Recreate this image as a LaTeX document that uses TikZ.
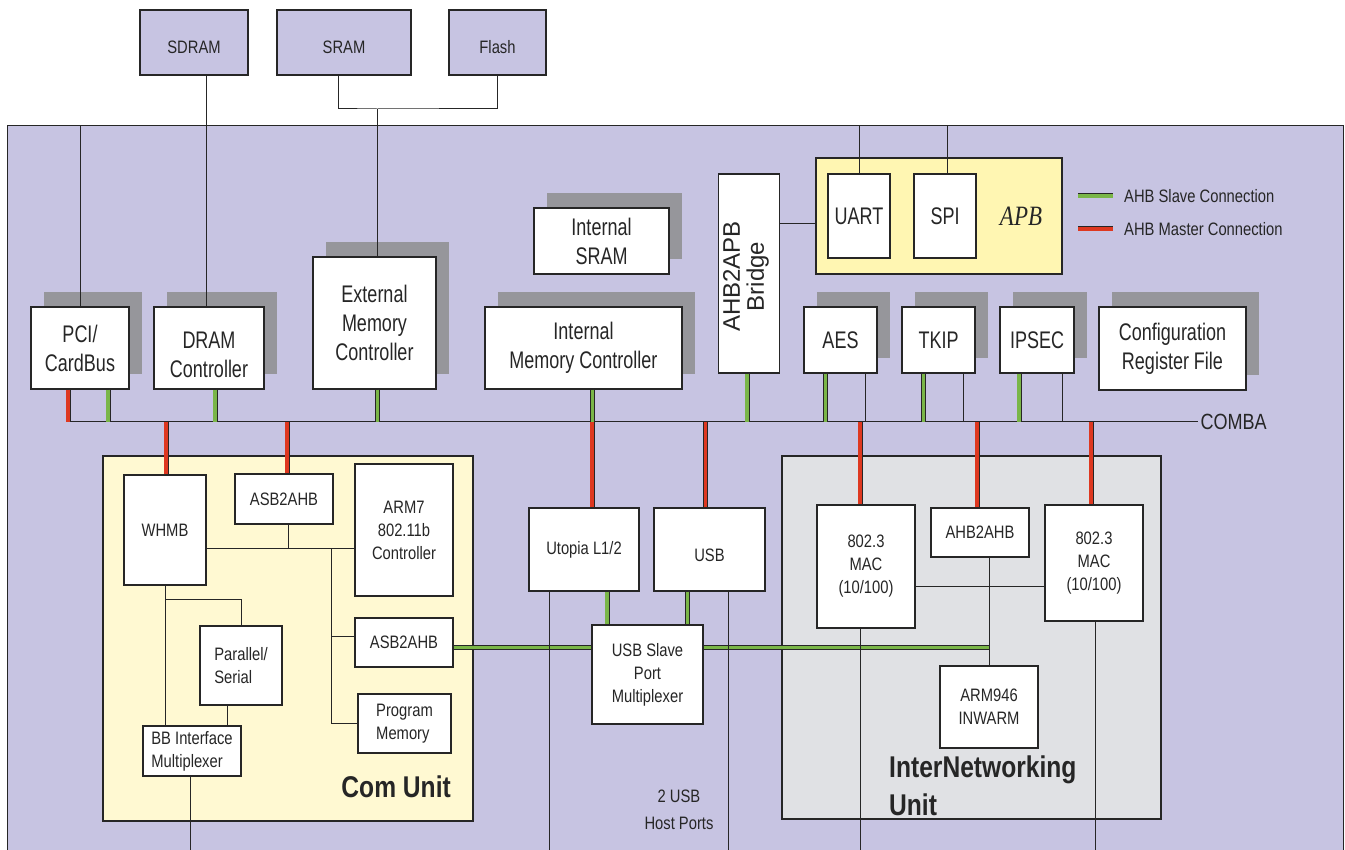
\documentclass[tikz,border=0pt]{standalone}
\usepackage{fontspec}
\setmainfont{Liberation Sans}[FakeStretch=0.82]
\newfontfamily\bigfont{Liberation Sans}[FakeStretch=0.75]
\newfontfamily\widefont{Liberation Sans}
\newfontfamily\apbfont{Liberation Serif}[FakeStretch=0.82]
\usetikzlibrary{shadows}
\definecolor{lavender}{RGB}{199,196,226}
\definecolor{shadowgray}{RGB}{150,150,155}
\definecolor{apbyellow}{RGB}{255,246,178}
\definecolor{comyellow}{RGB}{255,249,210}
\definecolor{inugray}{RGB}{224,225,228}
\definecolor{slavegreen}{RGB}{122,182,72}
\definecolor{masterred}{RGB}{222,56,32}
\newcommand\smalltxt{\fontsize{18}{23}\selectfont}
\newcommand\bigtxt{\bigfont\fontsize{24}{29}\selectfont}
\newcommand\unittxt{\bfseries\fontsize{30}{38}\selectfont}
\begin{document}
\begin{tikzpicture}[x=1pt,y=-1pt,color=black!85,
    box/.style={draw, fill=white, line width=1.1pt, inner sep=0pt, align=center, font=\smalltxt},
    big/.style={font=\bigtxt},
    wh/.style 2 args={minimum width=#1, minimum height=#2},
    shadowed/.style={drop shadow={shadow xshift=13pt, shadow yshift=15pt, opacity=1, fill=shadowgray, draw=none}},
    zone/.style={draw, line width=1.1pt, inner sep=0pt},
    wire/.style={line width=1pt},
    slave/.style={line width=0.9pt, double=slavegreen, double distance=3.2pt},
    master/.style={line width=0.9pt, double=masterred, double distance=3.2pt},
    unitlbl/.style={font=\unittxt, align=left, inner sep=0pt}]
    \useasboundingbox (0,0) rectangle (1345,850);
    \clip (0,0) rectangle (1345,850);
    \node[zone, fill=lavender, anchor=north west, wh={1336}{740}] (chip) at (7,125) {};
    \node[box, fill=lavender, wh={108}{65}, text height=23pt] (sdram) at (194,42.5) {SDRAM};
    \node[box, fill=lavender, wh={134}{65}, text height=23pt] (sram) at (344,42.5) {SRAM};
    \node[box, fill=lavender, wh={97}{65}, text height=23pt] (flash) at (497.5,42.5) {Flash};
    \node[box, big, shadowed, wh={98}{82}] (pci) at (80,348) {PCI/\\CardBus};
    \node[box, big, shadowed, wh={110}{82}, text height=60pt] (dram) at (209,348) {DRAM\\Controller};
    \node[box, big, shadowed, wh={123}{132}] (extmc) at (374.5,323) {External\\Memory\\Controller};
    \node[box, big, shadowed, wh={135}{66}] (isram) at (601.5,241) {Internal\\SRAM};
    \node[box, big, shadowed, wh={197}{82}] (imc) at (583.5,348) {Internal\\Memory Controller};
    \node[box, wh={61}{199}] (bridge) at (749,273.5) {};
    \node[font=\widefont\fontsize{24}{24}\selectfont, rotate=90, align=center] (bridgetxt)
        at ([xshift=-3,yshift=-3]bridge.center) {AHB2APB\\Bridge};
    \node[zone, fill=apbyellow, wh={246}{116}] (apb) at (939,216) {};
    \node[box, big, wh={62}{84}] (uart) at (859,216) {UART};
    \node[box, big, wh={62}{84}] (spi) at (945,216) {SPI};
    \node[font=\apbfont\itshape\fontsize{28}{28}\selectfont] (apblbl) at (1021,216) {APB};
    \node[box, big, shadowed, wh={73}{66}] (aes) at (840.5,340) {AES};
    \node[box, big, shadowed, wh={73}{66}] (tkip) at (938.5,340) {TKIP};
    \node[box, big, shadowed, wh={74}{66}] (ipsec) at (1037,340) {IPSEC};
    \node[box, big, shadowed, wh={147}{83}] (conf) at (1172.5,348.5) {Configuration\\Register File};
    \node[anchor=west, font=\smalltxt, inner sep=2pt] (lgslave) at (1122,196) {AHB Slave Connection};
    \node[anchor=west, font=\smalltxt, inner sep=2pt] (lgmaster) at (1122,229) {AHB Master Connection};
    \draw[slave] ([xshift=-44]lgslave.west) -- ([xshift=-9]lgslave.west);
    \draw[master] ([xshift=-44]lgmaster.west) -- ([xshift=-9]lgmaster.west);

    \node[zone, fill=comyellow, wh={370}{365}] (comu) at (288,638.5) {};
    \node[box, wh={82}{110}] (whmb) at (165,530) {WHMB};
    \node[box, wh={98}{50}] (asbA) at (284,499) {ASB2AHB};
    \node[box, wh={98}{132}] (arm7) at (404,530) {ARM7\\802.11b\\Controller};
    \node[box, wh={98}{49}] (asbB) at (404,642.5) {ASB2AHB};
    \node[box, wh={93}{59}, align=left] (prog) at (404.5,723.5) {Program\\Memory};
    \node[box, wh={82}{79}, align=left] (par) at (241,665.5) {Parallel/\\Serial};
    \node[box, wh={98}{50}, align=left] (bbmux) at (192,751) {BB Interface\\Multiplexer};
    \node[unitlbl, anchor=east] (comlbl) at (451,787) {Com Unit};

    \node[box, wh={110}{83}] (utopia) at (584,549.5) {Utopia L1/2};
    \node[box, wh={111}{83}, text height=25pt] (usb) at (709.5,549.5) {USB};
    \node[box, wh={111}{99}] (usbmux) at (647.5,674.5) {USB Slave\\Port\\Multiplexer};
    \node[font=\fontsize{18}{27}\selectfont, align=center] (hostlbl) at (679,810) {2 USB\\Host Ports};

    \node[zone, fill=inugray, wh={379}{363}] (inu) at (971.5,637.5) {};
    \node[box, wh={98}{123}] (macA) at (866,566.5) {802.3\\MAC\\(10/100)};
    \node[box, wh={98}{49}] (ahbB) at (980,532.5) {AHB2AHB};
    \node[box, wh={98}{116}] (macB) at (1094,563) {802.3\\MAC\\(10/100)};
    \node[box, wh={98}{82}] (arm946) at (989,707) {ARM946\\INWARM};
    \node[unitlbl, anchor=west] (inulbl) at (889,786) {InterNetworking\\Unit};

    \draw[wire] (pci.north) -- (pci.north |- chip.north);
    \draw[wire] ([xshift=-3]dram.north) -- ([xshift=-3]dram.north |- sdram.south);
    \coordinate (memjoin) at (377,109);
    \draw[wire] ([xshift=-6]sram.south) |- (memjoin) -| (flash.south);
    \draw[wire] (memjoin) -- (memjoin |- extmc.north);
    \draw[wire] (uart.north) -- (uart.north |- chip.north);
    \draw[wire] ([xshift=2]spi.north) -- ([xshift=2]spi.north |- chip.north);
    \draw[wire] ([yshift=-8]apb.west) -- ([yshift=-8]apb.west -| bridge.east);

    \coordinate (busL) at (67,422);
    \coordinate (busR) at (1198,422);
    \draw[wire] (busL) -- (busR) node[right, font=\fontsize{22}{22}\selectfont, inner sep=2pt] (combalbl) {COMBA};
    \foreach \n/\dx in {pci/28,dram/6,extmc/3,imc/9,bridge/-2,aes/-15,tkip/-15,ipsec/-18}
        \draw[slave] ([xshift=\dx]\n.south) -- ([xshift=\dx]\n.south |- busL);
    \foreach \n in {aes,tkip,ipsec}
        \draw[wire] ([xshift=25]\n.south) -- ([xshift=25]\n.south |- busL);
    \draw[master] ([xshift=-12]pci.south) -- ([xshift=-12]pci.south |- busL);
    \foreach \n/\dx in {whmb/1,asbA/3,utopia/8,usb/-4,macA/-6,ahbB/-3,macB/-3}
        \draw[master] ([xshift=\dx]\n.north) -- ([xshift=\dx]\n.north |- busL);

    \coordinate (armbus) at ([yshift=-18]whmb.east);
    \draw[wire] (armbus) -- (armbus -| arm7.west);
    \draw[wire] ([xshift=4]asbA.south) -- ([xshift=4]asbA.south |- armbus);
    \coordinate (cmid) at (331,548);
    \draw[wire] (cmid) |- (prog.west);
    \draw[wire] ([yshift=6]asbB.west) -- ([yshift=6]asbB.west -| cmid);
    \draw[wire] (whmb.south) -- (whmb.south |- bbmux.north);
    \draw[wire] ([yshift=-14]whmb.south) -| (par.north);
    \draw[wire] ([xshift=-14]par.south) -- ([xshift=-14]par.south |- bbmux.north);
    \draw[wire] ([xshift=-2]bbmux.south) -- ++(0,90);

    \coordinate (gbus) at ([yshift=-5]asbB.east);
    \draw[slave] (gbus) -- (gbus -| usbmux.west);
    \draw[slave] (gbus -| usbmux.east) -- (gbus -| arm946.north);
    \draw[slave] ([xshift=23]utopia.south) -- ([xshift=23]utopia.south |- usbmux.north);
    \draw[slave] ([xshift=-22]usb.south) -- ([xshift=-22]usb.south |- usbmux.north);
    \draw[wire] ([xshift=-35]utopia.south) -- ++(0,270);
    \draw[wire] ([xshift=19]usb.south) -- ++(0,270);

    \draw[wire] ([yshift=-20]macA.east) -- ([yshift=-20]macA.east -| macB.west);
    \draw[wire] (arm946.north) -- (arm946.north |- ahbB.south);
    \draw[wire] ([xshift=-6]macA.south) -- ++(0,230);
    \draw[wire] ([xshift=1]macB.south) -- ++(0,240);
\end{tikzpicture}
\end{document}
